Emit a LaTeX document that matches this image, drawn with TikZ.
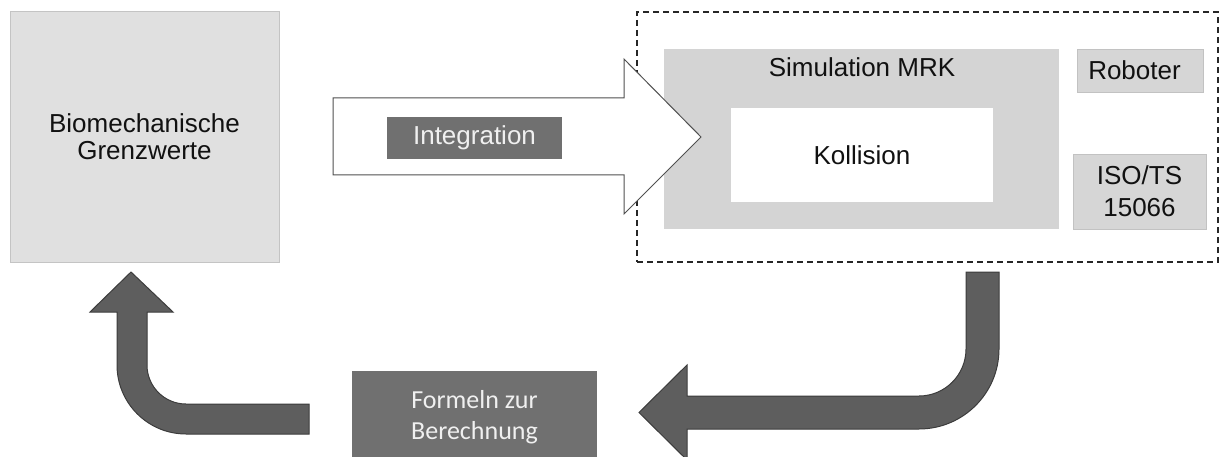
\documentclass[tikz,border=0pt]{standalone}
\usepackage{fontspec}
\setmainfont{Liberation Sans}
\newfontfamily\calib{Carlito}
\definecolor{biofill}{HTML}{E0E0E0}
\definecolor{biodraw}{HTML}{C4C4C4}
\definecolor{simfill}{HTML}{D4D4D4}
\definecolor{smallfill}{HTML}{D6D6D6}
\definecolor{smalldraw}{HTML}{C2C2C2}
\definecolor{labfill}{HTML}{707070}
\definecolor{arrfill}{HTML}{5E5E5E}
\definecolor{arrdraw}{HTML}{3C3C3C}
\definecolor{outl}{HTML}{505050}
\definecolor{txt}{HTML}{111111}
\tikzset{
  bigfont/.style={font=\fontsize{26}{27}\selectfont},
  biobox/.style={fill=biofill, draw=biodraw, line width=0.8pt, text=txt, align=center, bigfont, inner sep=0pt},
  simbox/.style={fill=simfill, draw=none, inner sep=0pt},
  whitebox/.style={fill=white, draw=none, inner sep=0pt, text=txt, bigfont},
  smallbox/.style={fill=smallfill, draw=smalldraw, line width=0.8pt, inner sep=0pt, text=txt, align=center},
  darklabel/.style={fill=labfill, draw=none, inner sep=0pt, text=white!94!black},
  framebox/.style={draw=black!85, line width=1.2pt, dash pattern=on 6pt off 4pt},
  whitearrow/.style={fill=white, draw=outl, line width=1pt, line join=miter},
  darkarrow/.style={fill=arrfill, draw=arrdraw, line width=1pt, line join=miter},
}
\begin{document}
\begin{tikzpicture}[x=1pt, y=-1pt]
\useasboundingbox (0,0) rectangle (1220,457);
% left box
\node[biobox, minimum width=269pt, minimum height=251pt] (bio) at (144.5,136.5) {Biomechanische\\Grenzwerte};
% dashed frame
\node[framebox, minimum width=581pt, minimum height=250pt, inner sep=0pt] (frame) at (927.5,137) {};
% simulation box
\node[simbox, minimum width=395pt, minimum height=180pt] (sim) at (861.5,139) {};
\node[anchor=base, text=txt, bigfont] (simlab) at (862,77) {Simulation MRK};
\node[whitebox, minimum width=262pt, minimum height=94pt] (koll) at (862,155) {Kollision};
% right boxes
\node[smallbox, minimum width=126pt, minimum height=43pt, bigfont] (rob) at (1140,70.5) {};
\node[anchor=base, text=txt, bigfont] (roblab) at (1134.5,80) {Roboter};
\node[smallbox, minimum width=133pt, minimum height=75pt, font=\fontsize{26}{32}\selectfont] (iso) at (1139.5,191.5) {ISO/TS\\15066};
% integration arrow
\draw[whitearrow] (333,98) -- (624,98) -- (624,59) -- (701,137) -- (624,214) -- (624,175) -- (333,175) -- cycle;
\node[darklabel, minimum width=175pt, minimum height=42pt, bigfont] (integ) at (474.5,138) {Integration};
% formula box
\node[darklabel, minimum width=245pt, minimum height=92pt, align=center, font=\calib\fontsize{26}{31}\selectfont] (form) at (474.5,417) {Formeln zur\\Berechnung};
% down-left arrow
\draw[darkarrow] (966,272) -- (999,272) -- (999,349) arc[start angle=0, end angle=90, radius=80] -- (687,429) -- (687,460) -- (639,412.5) -- (687,365) -- (687,396) -- (919,396) arc[start angle=90, end angle=0, radius=47] -- cycle;
% up arrow
\draw[darkarrow] (131,272) -- (173,312) -- (147,312) -- (147,365) arc[start angle=180, end angle=90, radius=39] -- (309,404) -- (309,434) -- (186,434) arc[start angle=90, end angle=180, radius=69] -- (117,312) -- (90,312) -- cycle;
\end{tikzpicture}
\end{document}
